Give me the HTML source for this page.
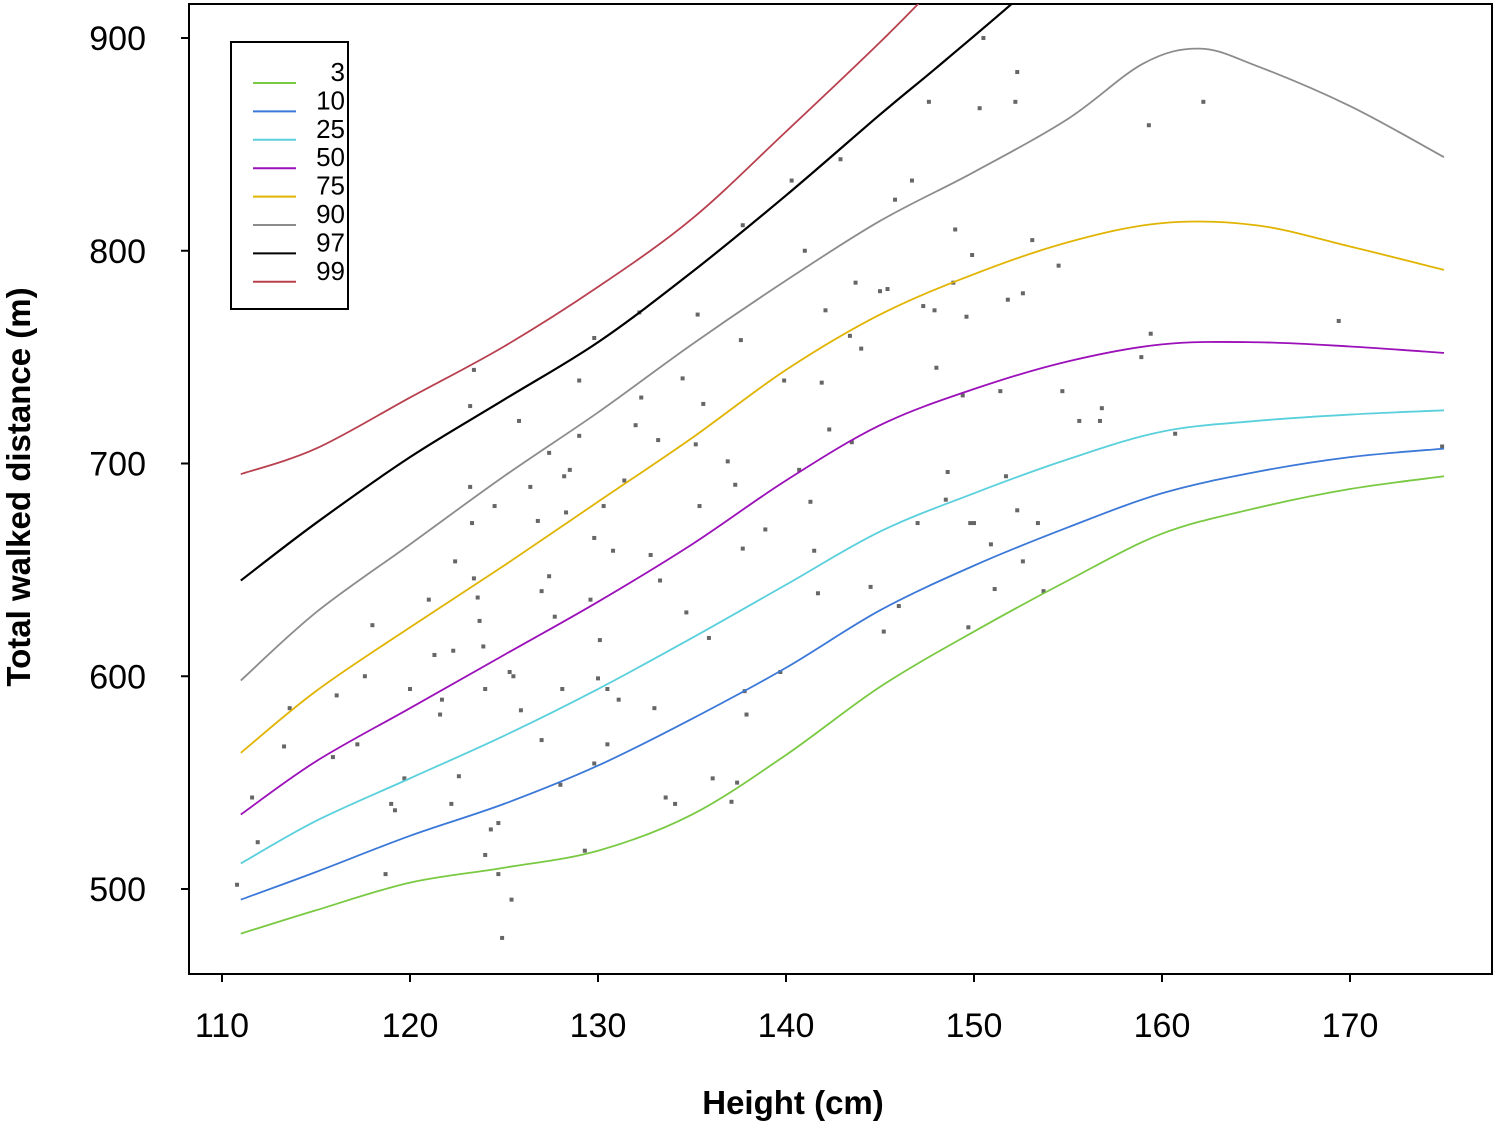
<!DOCTYPE html>
<html><head><meta charset="utf-8">
<style>
html,body{margin:0;padding:0;background:#fff;}
svg{display:block;font-family:"Liberation Sans",Arial,sans-serif;}
</style></head>
<body>
<svg id="chart" width="1495" height="1124" viewBox="0 0 1495 1124" xmlns="http://www.w3.org/2000/svg">
<defs><clipPath id="plotclip"><rect x="189" y="4" width="1303" height="970"/></clipPath></defs>
<rect x="189" y="4" width="1303" height="970" fill="none" stroke="#000" stroke-width="2"/>
<g id="yaxis"></g>
<g id="xaxis"></g>
<g id="points" clip-path="url(#plotclip)"></g>
<g id="curves" clip-path="url(#plotclip)"></g>
<text x="793" y="1114" font-size="33" font-weight="bold" text-anchor="middle">Height (cm)</text>
<text transform="translate(30,487) rotate(-90)" font-size="33" font-weight="bold" text-anchor="middle">Total walked distance (m)</text>
<g id="legend">
<rect x="231" y="42" width="117" height="267" fill="#fff" stroke="#000" stroke-width="2"/>
</g>
</svg>
<script>
const xTicks = [110,120,130,140,150,160,170];
const yTicks = [500,600,700,800,900];
const seriesNames = ["3","10","25","50","75","90","97","99"];
const seriesColors = ["#7ac943","#3b78d8","#5ad0dc","#9b10b8","#e0b400","#8c8c8c","#000000","#b8404f"];
const heights3 = [111,115,120,125,130,135,140,145,150,155,160,165,170,175];
const p3  = [479,490,503,510,518,535,563,595,621,645,667,679,688,694];
const p10 = [495,508,525,540,558,580,604,631,652,670,686,696,703,707];
const p25 = [512,532,552,572,594,618,643,668,686,702,715,720,723,725];
const p50 = [535,560,585,610,635,662,692,718,735,748,756,757,755,752];
const p75 = [564,593,623,652,682,712,744,770,789,804,813,812,802,791];
const heightsP90 = [111,115,120,125,130,135,140,145,150,155,159,162,165,170,175];
const p90 = [598,630,662,694,724,756,786,814,837,862,888,895,887,868,844];
const heightsP97 = [111,115,120,125,130,135,140,145,148,152,155];
const p97 = [645,672,703,730,757,790,826,864,886,916,940];
const heightsP99 = [111,115,120,125,130,135,140,145,148,150];
const p99 = [695,707,731,755,783,815,856,898,925,945];
const ptH = [110.8,111.6,111.9,113.3,113.6,116.1,115.9,117.2,118,117.6,119,119.2,118.7,119.7,120,121,121.3,121.6,121.7,122.4,122.3,122.6,122.2,123.2,123.2,123.4,123.3,123.4,123.6,123.7,123.9,124,124,124.3,124.5,124.7,124.7,124.9,125.4,125.3,125.5,125.9,125.8,126.4,126.8,127,127,127.4,127.4,127.7,128,128.1,128.2,128.3,128.5,129,129,129.3,129.6,129.8,129.8,130,129.8,130.1,130.3,130.5,130.5,130.8,131.1,131.4,132,132.2,132.3,132.8,133,133.2,133.3,133.6,134.1,134.5,134.7,135.2,135.3,135.4,135.6,135.9,136.1,136.9,137.1,137.3,137.4,137.7,137.8,137.9,137.7,137.6,138.9,139.7,139.9,140.3,140.7,141.3,141,141.5,141.7,141.9,142.1,142.3,142.9,143.4,143.5,143.7,144,144.5,145,145.2,145.4,145.8,146,146.7,147,147.3,147.6,147.9,148,148.5,148.6,148.9,149,149.4,149.6,149.7,149.8,150,149.9,150.3,150.5,150.9,151.1,151.4,151.7,151.8,152.2,152.3,152.3,152.6,152.6,153.1,153.4,153.7,154.5,154.7,155.6,156.7,156.8,158.9,159.3,159.4,160.7,162.2,169.4,174.9];
const ptD = [502,543,522,567,585,591,562,568,624,600,540,537,507,552,594,636,610,582,589,654,612,553,540,689,727,744,672,646,637,626,614,594,516,528,680,531,507,477,495,602,600,584,720,689,673,640,570,705,647,628,549,594,694,677,697,739,713,518,636,759,559,599,665,617,680,568,594,659,589,692,718,771,731,657,585,711,645,543,540,740,630,709,770,680,728,618,552,701,541,690,550,660,593,582,812,758,669,602,739,833,697,682,800,659,639,738,772,716,843,760,710,785,754,642,781,621,782,824,633,833,672,774,870,772,745,683,696,785,810,732,769,623,672,672,798,867,900,662,641,734,694,777,870,884,678,780,654,805,672,640,793,734,720,720,726,750,859,761,714,870,767,708];

const x = h => 222 + (h - 110) * 18.8;
const y = d => 889 - (d - 500) * 2.1275;
const NS = "http://www.w3.org/2000/svg";
function mk(tag, attrs, parent){const e=document.createElementNS(NS,tag);for(const k in attrs)e.setAttribute(k,attrs[k]);parent.appendChild(e);return e;}

const yaxis=document.getElementById('yaxis');
yTicks.forEach(v=>{
  const t=mk('line',{x1:181,x2:189,y1:y(v),y2:y(v),stroke:'#000','stroke-width':2},yaxis);
  
  
  const l=mk('text',{x:146,y:y(v)+12,'font-size':34,'text-anchor':'end'},yaxis);
  
  
  l.textContent=v;
});
const xaxis=document.getElementById('xaxis');
xTicks.forEach(v=>{
  const t=mk('line',{x1:x(v),x2:x(v),y1:974,y2:982,stroke:'#000','stroke-width':2},xaxis);
  
  
  const l=mk('text',{x:x(v),y:1037,'font-size':34,'text-anchor':'middle'},xaxis);
  
  
  l.textContent=v;
});

const pts=document.getElementById('points');
ptH.forEach((h,i)=>{
  const r=mk('rect',{x:x(h)-2,y:y(ptD[i])-2,width:4,height:4,fill:'#666'},pts);
  
  
});

function pathFor(hs,ds){
  const P=hs.map((h,i)=>[x(h),y(ds[i])]);
  let d=`M${P[0][0]},${P[0][1]}`;
  for(let i=0;i<P.length-1;i++){
    const p0=P[Math.max(0,i-1)],p1=P[i],p2=P[i+1],p3=P[Math.min(P.length-1,i+2)];
    const c1=[p1[0]+(p2[0]-p0[0])/6,p1[1]+(p2[1]-p0[1])/6];
    const c2=[p2[0]-(p3[0]-p1[0])/6,p2[1]-(p3[1]-p1[1])/6];
    d+=` C${c1[0]},${c1[1]} ${c2[0]},${c2[1]} ${p2[0]},${p2[1]}`;
  }
  return d;
}
const seriesH=[heights3,heights3,heights3,heights3,heights3,heightsP90,heightsP97,heightsP99];
const seriesD=[p3,p10,p25,p50,p75,p90,p97,p99];
const curves=document.getElementById('curves');
seriesD.forEach((ds,i)=>{
  const p=mk('path',{d:pathFor(seriesH[i],ds),fill:'none',stroke:seriesColors[i],'stroke-width':i===6?2.2:1.8},curves);
  
  
});

const legend=document.getElementById('legend');
seriesNames.forEach((n,i)=>{
  const ly=83+i*28.4;
  const g=mk('g',{},legend);
  
  
  mk('line',{x1:253,x2:296,y1:ly,y2:ly,stroke:seriesColors[i],'stroke-width':2},g);
  const t=mk('text',{x:345,y:ly-2,'font-size':26,'text-anchor':'end'},g);
  t.textContent=n;
});
</script>
</body></html>
